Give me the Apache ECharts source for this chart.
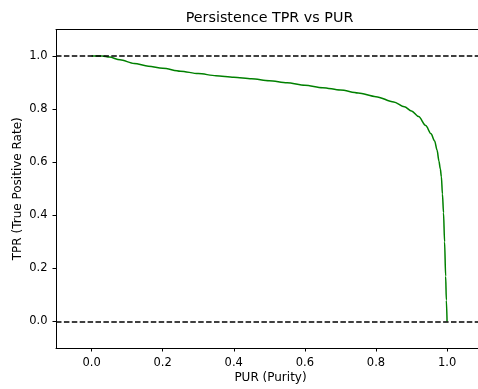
<!DOCTYPE html>
<html>
<head>
<meta charset="utf-8">
<script src="https://cdn.jsdelivr.net/npm/echarts@6/dist/echarts.min.js"></script>
<style>
  html, body { margin: 0; padding: 0; background: #fff; }
  #chart { width: 478px; height: 389px; }
</style>
</head>
<body>
<div id="chart"></div>
<script>
// purity (x) and true positive rate (y)
const pur = [0, 0.03, 0.05, 0.08, 0.12, 0.16, 0.2, 0.25, 0.3, 0.35, 0.4, 0.45, 0.5, 0.55, 0.6, 0.65, 0.7, 0.75, 0.8, 0.85, 0.88, 0.9, 0.92, 0.94, 0.955, 0.965, 0.972, 0.977, 0.981, 0.984, 0.987, 0.99, 0.993, 0.996, 0.998, 1.0];
const tpr = [1.0, 1.0, 0.996, 0.986, 0.972, 0.962, 0.954, 0.943, 0.934, 0.926, 0.92, 0.914, 0.907, 0.899, 0.89, 0.881, 0.872, 0.861, 0.847, 0.827, 0.809, 0.793, 0.772, 0.738, 0.707, 0.68, 0.645, 0.605, 0.575, 0.545, 0.48, 0.41, 0.3, 0.17, 0.08, 0.0];
const xTicks = [0, 0.2, 0.4, 0.6, 0.8, 1.0];
const yTicks = [0, 0.2, 0.4, 0.6, 0.8, 1.0];
const refLines = [0, 1];

const font = "DejaVu Sans";
const chart = echarts.init(document.getElementById("chart"));

const tickLabel = (vals, margin) => ({
  customValues: vals, margin: margin, fontFamily: font, fontSize: 11.5, color: "#000",
  formatter: v => v.toFixed(1)
});

chart.setOption({
  animation: false,
  title: {
    text: "Persistence TPR vs PUR",
    left: 269.5, top: 11.5, padding: 0, textAlign: "center",
    textStyle: { fontFamily: font, fontSize: 14.3, fontWeight: "normal", color: "#000" }
  },
  grid: { left: 56, top: 29.5, right: 0, bottom: 41 },
  xAxis: [
    {
      type: "value", min: -0.1, max: 1.087,
      name: "PUR (Purity)", nameLocation: "middle", nameGap: 24, nameMoveOverlap: false,
      nameTextStyle: { fontFamily: font, fontSize: 12, color: "#000", padding: [0, 0, 0, 7] },
      axisLine: { show: true, onZero: false, lineStyle: { color: "#000", width: 1 } },
      axisTick: { show: true, length: 3.5, customValues: xTicks, lineStyle: { color: "#000" } },
      axisLabel: tickLabel(xTicks, 9),
      splitLine: { show: false }
    },
    {
      // top spine only
      type: "value", position: "top", min: -0.1, max: 1.087,
      axisLine: { show: true, onZero: false, lineStyle: { color: "#000", width: 1 } },
      axisTick: { show: false }, axisLabel: { show: false }, splitLine: { show: false }
    }
  ],
  yAxis: {
    type: "value", min: -0.1, max: 1.1,
    name: "TPR (True Positive Rate)", nameLocation: "middle", nameGap: 32.5, nameMoveOverlap: false,
    nameTextStyle: { fontFamily: font, fontSize: 12, color: "#000" },
    axisLine: { show: true, onZero: false, lineStyle: { color: "#000", width: 1 } },
    axisTick: { show: true, length: 3.5, customValues: yTicks, lineStyle: { color: "#000" } },
    axisLabel: tickLabel(yTicks, 8.5),
    splitLine: { show: false }
  },
  series: [
    {
      type: "line",
      data: pur.map((x, i) => [x, tpr[i]]),
      showSymbol: false,
      smooth: 0.3,
      smoothMonotone: "x",
      lineStyle: { color: "#008000", width: 1.5 },
      z: 2,
      markLine: {
        silent: true,
        symbol: ["none", "none"],
        label: { show: false },
        lineStyle: { color: "#000", width: 1.5, type: [5.5, 2.4] },
        data: refLines.map(v => ({ yAxis: v }))
      }
    }
  ]
});
</script>
</body>
</html>
